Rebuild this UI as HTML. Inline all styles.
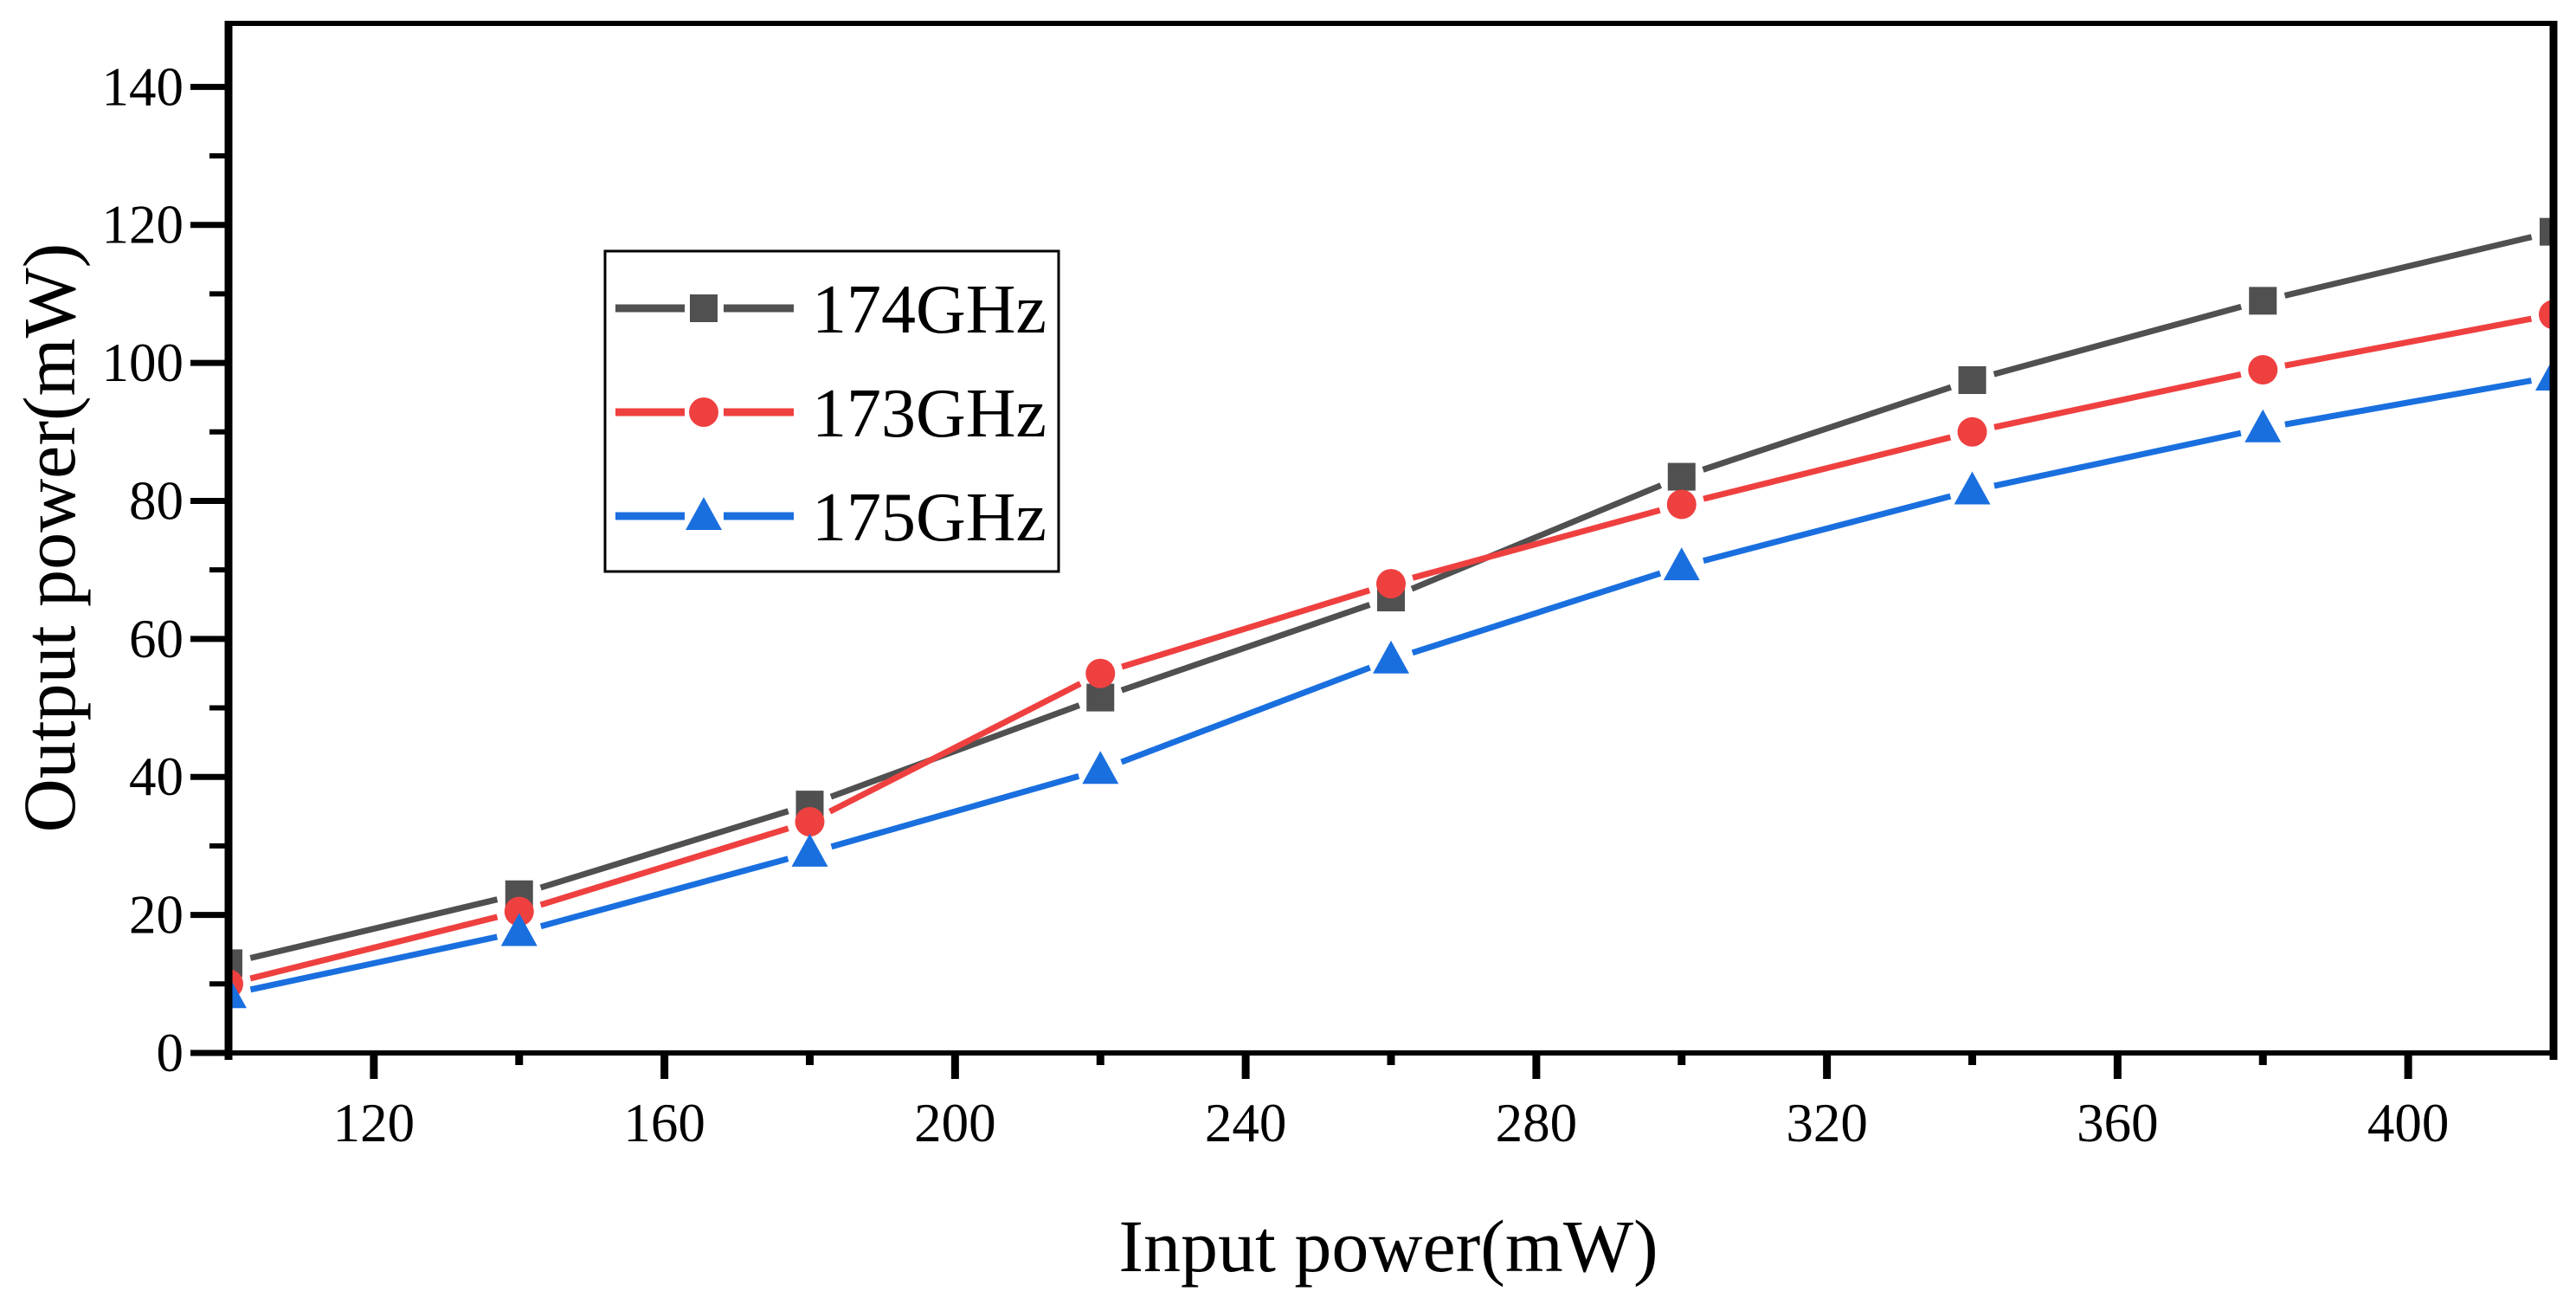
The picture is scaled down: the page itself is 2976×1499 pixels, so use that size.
<!DOCTYPE html>
<html><head><meta charset="utf-8"><style>
html,body{margin:0;padding:0;background:#fff}
svg{display:block}
text{font-family:"Liberation Serif",serif;fill:#000}
</style></head><body>
<svg id="chart" width="2976" height="1499" viewBox="0 0 2976 1499" xmlns="http://www.w3.org/2000/svg">
<g id="grid-layer"></g>
<g id="series-layer"></g>
<rect x="264" y="27" width="2686" height="1189" fill="none" stroke="#000" stroke-width="6"/>
<line x1="264" y1="24" x2="264" y2="1224" stroke="#000" stroke-width="9"/>
<line x1="2950" y1="24" x2="2950" y2="1224" stroke="#000" stroke-width="9"/>
<g id="axes-layer"></g>
<text x="1604" y="1468" font-size="86" text-anchor="middle">Input power(mW)</text>
<text transform="translate(86,621) rotate(-90)" font-size="86" text-anchor="middle">Output power(mW)</text>
<g>
<rect x="699" y="290" width="524" height="370" fill="#fff" stroke="#000" stroke-width="3"/>
<g id="legend-entries"></g>
</g>
</svg>
<script>
const xValues = [100, 140, 180, 220, 260, 300, 340, 380, 420];
const series174 = [13, 23, 36, 51.5, 66, 83.5, 97.5, 109, 119];
const series173 = [10, 20.5, 33.5, 55, 68, 79.5, 90, 99, 107];
const series175 = [8.5, 17.5, 29, 41, 57, 70.5, 81.5, 90.5, 98];
const seriesNames = ["174GHz", "173GHz", "175GHz"];
const xTickLabels = [120, 160, 200, 240, 280, 320, 360, 400];
const yTickLabels = [0, 20, 40, 60, 80, 100, 120, 140];

const NS = "http://www.w3.org/2000/svg";
const X0 = 264, X1 = 2950, Y0 = 1216, Y1 = 27;
const xMin = 100, xMax = 420, yMin = 0, yMax = 149.2;
function sx(v){ return X0 + (v - xMin) / (xMax - xMin) * (X1 - X0); }
function sy(v){ return Y0 - (v - yMin) / (yMax - yMin) * (Y0 - Y1); }
function mk(tag, attrs, parent){
  const e = document.createElementNS(NS, tag);
  for (const k in attrs) e.setAttribute(k, attrs[k]);
  parent.appendChild(e);
  return e;
}
const axes = document.getElementById('axes-layer');
yTickLabels.forEach(v => {
  const y = sy(v);
  const t = mk('line', {x1: X0 - 44, y1: y, x2: X0, y2: y, stroke: '#000', 'stroke-width': 7}, axes);
  
  
  const l = mk('text', {x: X0 - 52, y: y + 21, 'font-size': 63, 'text-anchor': 'end'}, axes);
  l.textContent = v;
  
  
  if (v + 10 < yMax) {
    const m = mk('line', {x1: X0 - 22, y1: sy(v + 10), x2: X0, y2: sy(v + 10), stroke: '#000', 'stroke-width': 6}, axes);
    
    
  }
});
xTickLabels.forEach(v => {
  const x = sx(v);
  const t = mk('line', {x1: x, y1: Y0, x2: x, y2: Y0 + 30, stroke: '#000', 'stroke-width': 9}, axes);
  
  
  const l = mk('text', {x: x, y: Y0 + 102, 'font-size': 63, 'text-anchor': 'middle'}, axes);
  l.textContent = v;
  
  
  if (v + 20 < xMax) {
    const m = mk('line', {x1: sx(v + 20), y1: Y0, x2: sx(v + 20), y2: Y0 + 14, stroke: '#000', 'stroke-width': 9}, axes);
    
    
  }
});
const colors = ['#505050', '#ef4040', '#1a6fdf'];
const shapes = ['square', 'circle', 'triangle'];
const allSeries = [series174, series173, series175];
function marker(shape, x, y, color, parent){
  let e;
  if (shape === 'square') e = mk('rect', {x: x - 16, y: y - 16, width: 32, height: 32, fill: color}, parent);
  else if (shape === 'circle') e = mk('circle', {cx: x, cy: y, r: 17, fill: color}, parent);
  else e = mk('polygon', {points: `${x},${y - 22} ${x + 21},${y + 16} ${x - 21},${y + 16}`, fill: color}, parent);
  return e;
}
const sl = document.getElementById('series-layer');
const clip = mk('clipPath', {id: 'plotclip'}, sl);
mk('rect', {x: X0, y: Y1, width: X1 - X0, height: Y0 - Y1}, clip);
allSeries.forEach((vals, si) => {
  const g = mk('g', {'clip-path': 'url(#plotclip)'}, sl);
  
  
  for (let i = 0; i < vals.length - 1; i++) {
    const ax = sx(xValues[i]), ay = sy(vals[i]), bx = sx(xValues[i + 1]), by = sy(vals[i + 1]);
    const d = Math.hypot(bx - ax, by - ay), ux = (bx - ax) / d, uy = (by - ay) / d, gap = 26;
    const seg = mk('line', {x1: ax + ux * gap, y1: ay + uy * gap, x2: bx - ux * gap, y2: by - uy * gap, stroke: colors[si], 'stroke-width': 7}, g);
    
    
  }
  vals.forEach((v, i) => {
    const m = marker(shapes[si], sx(xValues[i]), sy(v), colors[si], g);
    
    
  });
});
const le = document.getElementById('legend-entries');
seriesNames.forEach((n, si) => {
  const cy = 356 + si * 120;
  const g = mk('g', {}, le);
  
  
  mk('line', {x1: 711, y1: cy, x2: 791, y2: cy, stroke: colors[si], 'stroke-width': 9}, g);
  mk('line', {x1: 836, y1: cy, x2: 917, y2: cy, stroke: colors[si], 'stroke-width': 9}, g);
  marker(shapes[si], 813, cy, colors[si], g);
  const t = mk('text', {x: 938, y: cy + 28, 'font-size': 80}, g);
  t.textContent = n;
  
  
});
</script>
</body></html>
